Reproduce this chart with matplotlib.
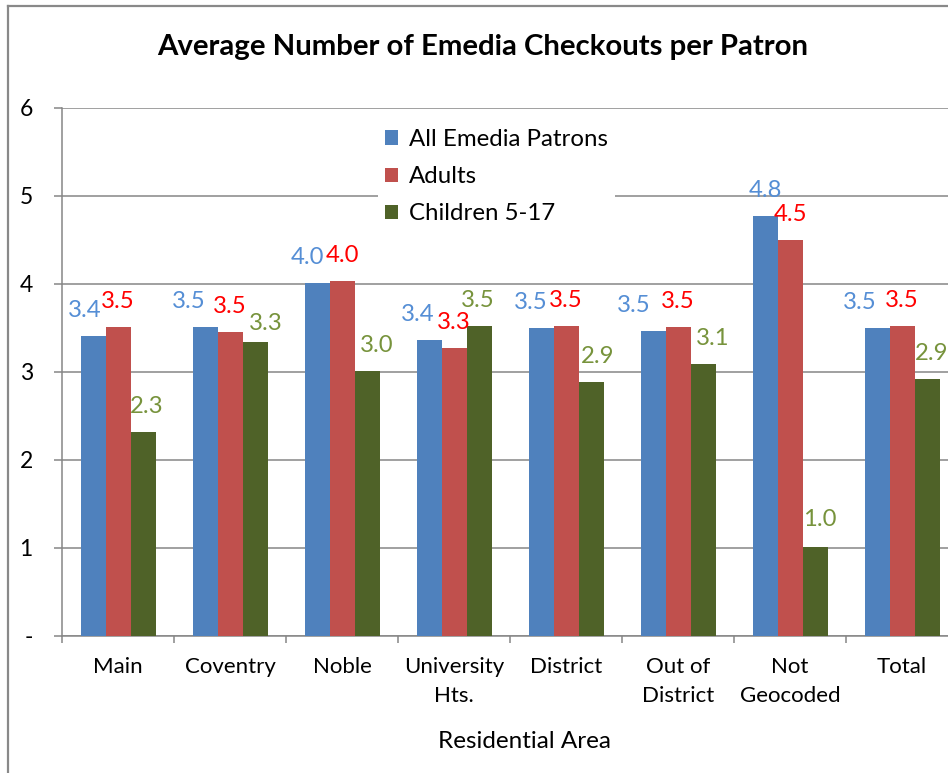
import matplotlib
matplotlib.use("Agg")
import matplotlib.pyplot as plt
from matplotlib.lines import Line2D
import numpy as np

categories = ["Main", "Coventry", "Noble", "University\nHts.", "District",
              "Out of\nDistrict", "Not\nGeocoded", "Total"]
series_names = ["All Emedia Patrons", "Adults", "Children 5-17"]
all_patrons = [3.41, 3.51, 4.01, 3.36, 3.50, 3.47, 4.77, 3.50]
adults = [3.51, 3.46, 4.03, 3.27, 3.52, 3.51, 4.50, 3.52]
children = [2.32, 3.34, 3.01, 3.52, 2.89, 3.09, 1.01, 2.92]
y_ticks = [0, 1, 2, 3, 4, 5, 6]
y_tick_labels = ["-", "1", "2", "3", "4", "5", "6"]
title = "Average Number of Emedia Checkouts per Patron"
x_label = "Residential Area"

# style
bar_colors = ["#4F81BD", "#C0504D", "#4F6228"]
label_colors = ["#558ED5", "#FF0000", "#77933C"]
label_dx_px = [[-8, -16, -10, -11, -10, -19, 0, -17],
               [0, 0, 0, 0, 0, 0, 0, 0],
               [4, 11, 10, -1, 7, 10, 5, 5]]
label_dy_px = [[19] * 8,
               [19] * 8,
               [19, 12, 19, 19, 19, 19, 21, 19]]
grid_color = "#868686"

plt.rcParams['font.family'] = ['Lato', 'DejaVu Sans']

W, H = 948, 773
DPI = 100
fig = plt.figure(figsize=(W / DPI, H / DPI), dpi=DPI)

def fx(px):
    return px / W

def fy(py):
    return 1 - py / H

# chart frame
fig.add_artist(Line2D([fx(8), fx(8)], [fy(6), -0.1], color="#898989", lw=1.6,
                      transform=fig.transFigure))
fig.add_artist(Line2D([fx(8), 1.1], [fy(6), fy(6)], color="#898989", lw=1.6,
                      transform=fig.transFigure))
fig.text(fx(26), fy(-5), "g", fontsize=17, ha="left", va="baseline", color="black")

left, right, top, bottom = 62, 958, 108, 636
ax = fig.add_axes([fx(left), fy(bottom), (right - left) / W, (bottom - top) / H])

n = len(categories)
x = np.arange(n)
bw = 25 / 112
series = [all_patrons, adults, children]
for k, vals in enumerate(series):
    xs = x + (k - 1) * bw
    ax.bar(xs, vals, width=bw, color=bar_colors[k], label=series_names[k],
           zorder=3, edgecolor="none")
    for i, v in enumerate(vals):
        ax.annotate(f"{v:.1f}", (xs[i], v),
                    xytext=(label_dx_px[k][i] * 72 / DPI, label_dy_px[k][i] * 72 / DPI),
                    textcoords="offset points", ha="center", va="baseline",
                    fontsize=17.2, color=label_colors[k], zorder=5)

ax.set_xlim(-0.5, n - 0.5)
ax.set_ylim(0, 6)
ax.set_yticks(y_ticks)
ax.set_yticklabels(y_tick_labels)
ax.yaxis.grid(True, color=grid_color, lw=1.1, zorder=0)
ax.set_axisbelow(True)
for s in ["top", "right"]:
    ax.spines[s].set_visible(False)
for s in ["left", "bottom"]:
    ax.spines[s].set_color(grid_color)
    ax.spines[s].set_linewidth(1.1)
ax.tick_params(axis="y", length=6, width=1.1, color=grid_color, pad=15,
               labelsize=16.5)
ax.set_xticks(x)
ax.set_xticklabels(categories)
ax.set_xticks(np.arange(-0.5, n, 1.0), minor=True)
ax.tick_params(axis="x", which="major", length=0, pad=15, labelsize=16)
ax.tick_params(axis="x", which="minor", length=5, width=1.1, color=grid_color)
for t in ax.get_xticklabels():
    t.set_linespacing(1.55)

leg = ax.legend(loc="upper left", bbox_to_anchor=(fx(378), fy(122)),
                bbox_transform=fig.transFigure, frameon=True, fancybox=False,
                edgecolor="none", facecolor="white", framealpha=1,
                fontsize=17.3, handlelength=0.55, handleheight=0.55,
                handletextpad=0.42, labelspacing=0.67, borderpad=0.3,
                borderaxespad=0)
leg.set_zorder(4)

fig.text(fx(483), fy(47), title, ha="center", va="center", fontsize=21.2,
         fontweight="bold")
fig.text(fx(524), fy(742), x_label, ha="center", va="center", fontsize=17.5)

fig.savefig("out.png", dpi=DPI)
